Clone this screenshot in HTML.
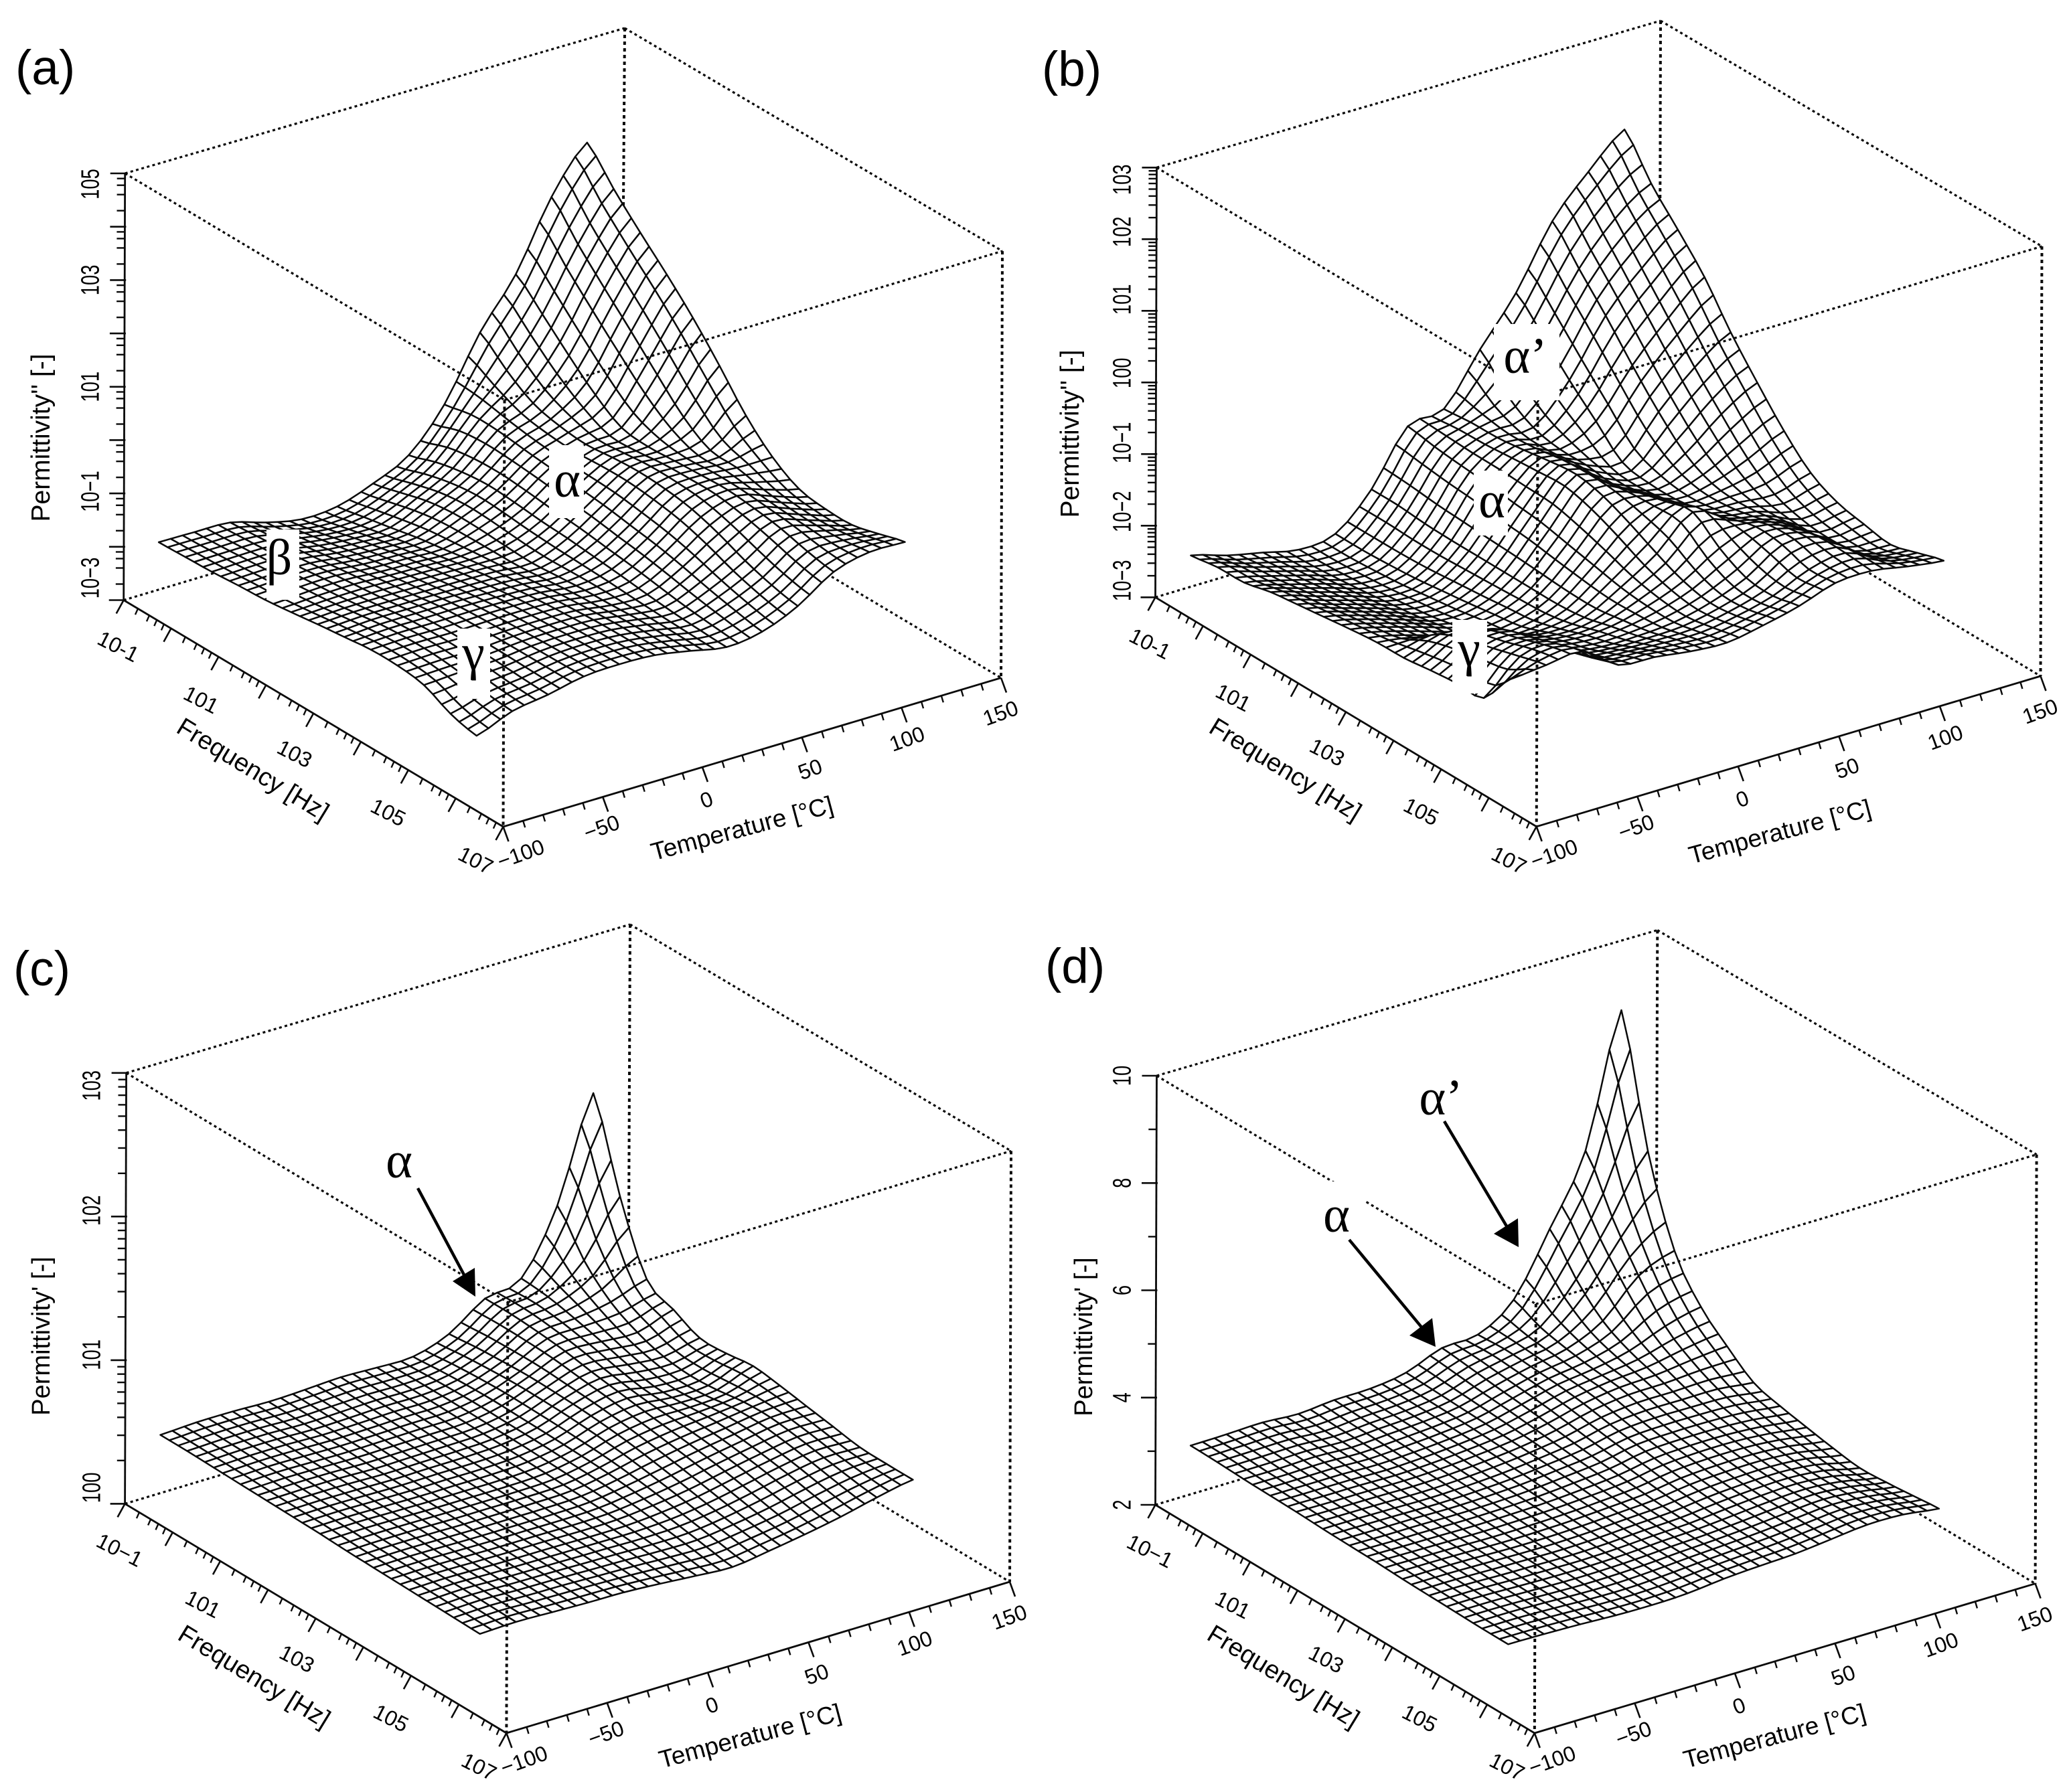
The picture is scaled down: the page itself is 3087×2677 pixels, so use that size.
<!DOCTYPE html>
<html lang="en">
<head>
<meta charset="utf-8">
<title>Permittivity surfaces versus frequency and temperature</title>
<style>
html,body{margin:0;padding:0;background:#fff;}
svg{display:block;font-family:"Liberation Sans",sans-serif;fill:#000;}
.greek{font-family:"Liberation Serif",serif;font-size:76px;text-anchor:middle;}
.panel-letter{font-size:73px;}
.axis-title{font-size:38px;text-anchor:middle;}
</style>
</head>
<body>
<svg id="figure" xmlns="http://www.w3.org/2000/svg" width="3087" height="2677" viewBox="0 0 3087 2677">
<rect x="0" y="0" width="3087" height="2677" fill="#fff"/>
<g id="plot-a"></g>
<g id="plot-b"></g>
<g id="plot-c"></g>
<g id="plot-d"></g>

<text class="panel-letter" x="23" y="126">(a)</text>
<text class="panel-letter" x="1556" y="128">(b)</text>
<text class="panel-letter" x="20" y="1472">(c)</text>
<text class="panel-letter" x="1561" y="1468">(d)</text>

<text class="axis-title" style="font-size:39px" transform="translate(74,654) rotate(-90)">Permittivity'' [-]</text>
<text class="axis-title" style="font-size:39px" transform="translate(1611,648) rotate(-90)">Permittivity'' [-]</text>
<text class="axis-title" transform="translate(74,1996) rotate(-90)">Permittivity' [-]</text>
<text class="axis-title" transform="translate(1631,1997) rotate(-90)">Permittivity' [-]</text>

<text class="axis-title" y="13" transform="translate(378,1149) rotate(31.4)">Frequency [Hz]</text>
<text class="axis-title" y="13" transform="translate(1920,1149) rotate(31.4)">Frequency [Hz]</text>
<text class="axis-title" y="13" transform="translate(380,2504) rotate(31.4)">Frequency [Hz]</text>
<text class="axis-title" y="13" transform="translate(1917,2504) rotate(31.4)">Frequency [Hz]</text>

<text class="axis-title" style="font-size:37px" y="13" transform="translate(1108,1237) rotate(-15)">Temperature [°C]</text>
<text class="axis-title" style="font-size:37px" y="13" transform="translate(2658,1242) rotate(-15)">Temperature [°C]</text>
<text class="axis-title" style="font-size:37px" y="13" transform="translate(1120,2593) rotate(-15)">Temperature [°C]</text>
<text class="axis-title" style="font-size:37px" y="13" transform="translate(2650,2593) rotate(-15)">Temperature [°C]</text>

<g>
<rect x="820" y="665" width="52" height="109" fill="#fff"/>
<text class="greek" x="847" y="742">α</text>
<rect x="398" y="791" width="49" height="105" fill="#fff"/>
<text class="greek" x="417" y="858">β</text>
<rect x="683" y="939" width="49" height="105" fill="#fff"/>
<text class="greek" x="707" y="1000">γ</text>
</g>
<g>
<rect x="2231" y="484" width="98" height="114" fill="#fff"/>
<text class="greek" x="2278" y="557">α’</text>
<rect x="2201" y="703" width="51" height="97" fill="#fff"/>
<text class="greek" x="2228" y="773">α</text>
<rect x="2169" y="926" width="52" height="110" fill="#fff"/>
<text class="greek" x="2194" y="994">γ</text>
</g>
<g>
<text class="greek" x="596" y="1759">α</text>
<line x1="624" y1="1775" x2="696" y2="1910" stroke="#000" stroke-width="4.5"/>
<polygon points="710,1937 676,1914 709,1894" fill="#000"/>
</g>
<g>
<rect x="1974" y="1765" width="64" height="78" fill="#fff"/>
<text class="greek" x="1996" y="1840">α</text>
<text class="greek" x="2152" y="1665">α’</text>
<line x1="2157" y1="1675" x2="2252" y2="1835" stroke="#000" stroke-width="4.5"/>
<polygon points="2268,1863 2231,1843 2267,1820" fill="#000"/>
<line x1="2015" y1="1852" x2="2125" y2="1985" stroke="#000" stroke-width="4.5"/>
<polygon points="2144,2012 2105,1995 2139,1969" fill="#000"/>
</g>
</svg>

<script>
// Lattice coordinates of the surface heights.
const logFreqNodes = [-0.76,-0.20,0.36,0.92,1.47,2.03,2.59,3.15,3.71,4.27,4.83,5.39,5.94];
const tempNodes = [-88.1,-70.2,-52.2,-34.3,-16.4,1.5,19.5,37.4,55.3,73.2,91.2,109.1,127];

// Heights are estimates at each lattice node.
// One row per temperature node, one column per frequency node.
// Panels a, b, c hold log10 of permittivity; panel d holds permittivity.
const surfaceA = [
[-1.92,-1.90,-1.88,-1.84,-1.81,-1.75,-1.68,-1.62,-1.56,-1.56,-1.63,-1.87,-1.99],
[-1.93,-1.90,-1.86,-1.82,-1.77,-1.72,-1.65,-1.58,-1.54,-1.54,-1.59,-1.68,-1.73],
[-1.95,-1.91,-1.87,-1.82,-1.76,-1.71,-1.65,-1.58,-1.55,-1.55,-1.57,-1.60,-1.62],
[-2.15,-2.07,-1.99,-1.90,-1.82,-1.73,-1.66,-1.58,-1.54,-1.52,-1.50,-1.49,-1.48],
[-2.29,-2.18,-2.05,-1.94,-1.84,-1.75,-1.67,-1.60,-1.54,-1.51,-1.48,-1.46,-1.45],
[-2.25,-2.15,-2.05,-1.94,-1.86,-1.77,-1.69,-1.63,-1.57,-1.53,-1.50,-1.49,-1.48],
[-2.02,-1.89,-1.75,-1.68,-1.68,-1.71,-1.73,-1.69,-1.65,-1.63,-1.60,-1.60,-1.60],
[-1.69,-1.52,-1.41,-1.36,-1.39,-1.44,-1.47,-1.52,-1.57,-1.63,-1.68,-1.71,-1.73],
[-0.94,-0.83,-0.83,-0.89,-0.94,-0.99,-1.04,-1.12,-1.20,-1.31,-1.44,-1.55,-1.64],
[0.21,-0.20,-0.52,-0.65,-0.70,-0.65,-0.62,-0.65,-0.73,-0.89,-1.10,-1.26,-1.36],
[1.10,0.65,0.17,-0.27,-0.59,-0.65,-0.62,-0.59,-0.57,-0.62,-0.70,-0.83,-0.92],
[2.35,1.76,1.23,0.72,0.20,-0.30,-0.62,-0.65,-0.76,-0.82,-0.84,-0.82,-0.75],
[3.17,2.60,2.08,1.59,1.07,0.47,-0.17,-0.65,-0.95,-1.03,-1.03,-0.90,-0.76]
];
const surfaceB = [
[-2.42,-2.36,-2.35,-2.26,-2.21,-2.16,-2.11,-2.07,-2.06,-2.01,-1.97,-1.95,-1.47],
[-2.57,-2.51,-2.47,-2.41,-2.36,-2.29,-2.23,-2.15,-1.88,-1.73,-1.63,-1.52,-1.42],
[-2.68,-2.65,-2.61,-2.56,-2.51,-2.45,-2.38,-2.31,-1.98,-1.74,-1.62,-1.49,-1.38],
[-2.79,-2.78,-2.75,-2.71,-2.66,-2.61,-2.53,-2.46,-2.21,-2.07,-1.96,-1.84,-1.72],
[-2.72,-2.72,-2.70,-2.67,-2.62,-2.57,-2.51,-2.45,-2.31,-2.17,-2.06,-1.90,-1.76],
[-2.25,-2.25,-2.28,-2.29,-2.29,-2.29,-2.29,-2.29,-2.25,-2.15,-2.06,-1.93,-1.83],
[-1.52,-1.58,-1.62,-1.65,-1.70,-1.74,-1.82,-1.90,-1.98,-2.02,-2.02,-1.94,-1.86],
[-1.43,-1.39,-1.38,-1.33,-1.27,-1.23,-1.31,-1.47,-1.66,-1.82,-1.90,-1.86,-1.77],
[-0.75,-1.15,-1.39,-1.47,-1.47,-1.51,-1.41,-1.31,-1.23,-1.51,-1.70,-1.73,-1.65],
[-0.11,-0.48,-0.88,-1.23,-1.58,-1.65,-1.65,-1.58,-1.47,-1.36,-1.39,-1.51,-1.48],
[0.74,0.30,-0.13,-0.60,-1.03,-1.39,-1.58,-1.62,-1.58,-1.51,-1.43,-1.43,-1.46],
[1.28,0.85,0.38,-0.09,-0.56,-0.99,-1.39,-1.66,-1.78,-1.82,-1.78,-1.66,-1.55],
[1.72,1.19,0.77,0.33,-0.22,-0.70,-1.15,-1.51,-1.70,-1.78,-1.84,-1.73,-1.62]
];
const surfaceC = [
[.477,.477,.473,.469,.465,.461,.457,.449,.445,.441,.437,.433,.429],
[.489,.485,.481,.477,.469,.465,.461,.453,.449,.445,.445,.441,.437],
[.489,.485,.481,.473,.469,.461,.457,.453,.445,.441,.437,.433,.429],
[.481,.477,.473,.469,.461,.457,.453,.449,.441,.437,.433,.429,.421],
[.489,.485,.477,.473,.465,.461,.453,.449,.441,.437,.429,.421,.417],
[.501,.493,.485,.477,.469,.461,.453,.449,.441,.433,.425,.413,.401],
[.493,.489,.485,.481,.477,.473,.465,.457,.449,.437,.421,.401,.381],
[.493,.509,.520,.524,.520,.516,.509,.501,.485,.461,.429,.397,.366],
[.576,.596,.608,.616,.612,.604,.588,.564,.532,.497,.461,.429,.401],
[.747,.747,.735,.715,.683,.656,.628,.604,.580,.548,.509,.469,.441],
[.811,.795,.755,.707,.656,.616,.616,.628,.620,.596,.564,.524,.489],
[1.243,.973,.795,.695,.636,.616,.628,.656,.660,.636,.604,.572,.548],
[1.951,1.343,.878,.779,.691,.695,.719,.695,.663,.632,.600,.596,.596]
];
const surfaceD = [
[3.10,3.09,3.07,3.06,3.05,3.03,3.02,3.01,2.99,2.98,2.97,2.96,2.96],
[3.11,3.10,3.07,3.06,3.04,3.03,3.01,3.00,2.99,2.98,2.97,2.96,2.95],
[3.13,3.11,3.09,3.06,3.04,3.02,3.01,2.99,2.98,2.96,2.95,2.94,2.93],
[3.09,3.07,3.06,3.04,3.03,3.01,3.00,2.98,2.96,2.95,2.93,2.91,2.90],
[3.15,3.12,3.10,3.07,3.05,3.03,3.01,2.99,2.96,2.94,2.93,2.90,2.89],
[3.16,3.15,3.14,3.12,3.10,3.07,3.04,3.01,2.98,2.96,2.95,2.93,2.91],
[3.26,3.24,3.22,3.20,3.17,3.14,3.10,3.05,3.02,3.00,2.99,2.98,2.98],
[3.52,3.47,3.41,3.36,3.30,3.23,3.17,3.11,3.06,3.03,3.02,3.02,3.02],
[3.57,3.60,3.57,3.53,3.47,3.38,3.30,3.22,3.15,3.10,3.07,3.06,3.05],
[4.02,3.81,3.70,3.62,3.57,3.44,3.33,3.26,3.19,3.15,3.13,3.12,3.12],
[5.14,4.50,4.02,3.76,3.60,3.44,3.33,3.26,3.20,3.17,3.17,3.18,3.19],
[6.40,5.46,4.66,4.02,3.68,3.44,3.30,3.21,3.15,3.11,3.11,3.14,3.18],
[8.82,6.49,4.93,4.18,3.74,3.36,3.22,3.12,3.03,2.96,2.99,3.04,3.09]
];

// Axis ticks and labels.
const tempTickValues = [-100,-50,0,50,100,150];
const tempTickLabels = ['−100','−50','0','50','100','150'];
const freqTickValues = [-1,1,3,5,7];
const freqTickLabelsHyphen = ['10-1','101','103','105','107'];
const freqTickLabelsMinus = ['10−1','101','103','105','107'];
const zTickValuesA = [-3,-1,1,3,5];
const zTickLabelsA = ['10−3','10−1','101','103','105'];
const zTickValuesB = [-3,-2,-1,0,1,2,3];
const zTickLabelsB = ['10−3','10−2','10−1','100','101','102','103'];
const zTickValuesC = [0,1,2,3];
const zTickLabelsC = ['100','101','102','103'];
const zTickValuesD = [2,4,6,8,10];
const zTickLabelsD = ['2','4','6','8','10'];

// Layout of each plot: box corners and label placement.
const plots = [
 {id:'a',L:[184.7,896.5],F:[751.5,1235],R:[1495,1012.6],H:637.5,topBack:[933,42],grid:surfaceA,zMin:-3,zMax:5,zTicks:zTickValuesA,zLabels:zTickLabelsA,zShift:[-33,-3,0,0,16],decadeStep:1,minor:[.301,.602,.778,.903],freqLabels:freqTickLabelsHyphen},
 {id:'b',L:[1725.5,892.3],F:[2294.7,1234.8],R:[3047.5,1010],H:642,topBack:[2480,31],grid:surfaceB,zMin:-3,zMax:3,zTicks:zTickValuesB,zLabels:zTickLabelsB,zShift:[-25,-21,-17,-14,-17,-11,18],decadeStep:1,minor:[.301,.477,.602,.699,.778,.845,.903,.954],freqLabels:freqTickLabelsHyphen},
 {id:'c',L:[186.6,2246.4],F:[756.4,2589],R:[1508,2363],H:643.6,topBack:[941,1381],grid:surfaceC,zMin:0,zMax:3,zTicks:zTickValuesC,zLabels:zTickLabelsC,zShift:[-24,-8,-9,19],decadeStep:1,minor:[.301,.477,.602,.699,.778,.845,.903,.954],freqLabels:freqTickLabelsMinus},
 {id:'d',L:[1725.5,2248],F:[2291.8,2589],R:[3039.6,2365.7],H:641,topBack:[2475.3,1389.5],grid:surfaceD,zMin:2,zMax:10,zTicks:zTickValuesD,zLabels:zTickLabelsD,zShift:[0,0,0,0,0],decadeStep:2,minor:[.5],freqLabels:freqTickLabelsMinus}
];

const SVG_NS = 'http://www.w3.org/2000/svg';
const MESH_PER_NODE = 3;
const freqMinorFractions = [.30,.54,.70,.85];
const tempLabelOffsets = [[30,40],[2,45],[10,48],[16,47],[12,46],[3,52]];
const freqLabelOffsets = [[-13,68],[-31,63],[-33,59],[-35,62],[-46,49]];

function drawLine(parent, name, x1, y1, x2, y2, width, dash) {
  const node = document.createElementNS(SVG_NS, 'line');
  
  
  node.setAttribute('x1', x1.toFixed(1));
  node.setAttribute('y1', y1.toFixed(1));
  node.setAttribute('x2', x2.toFixed(1));
  node.setAttribute('y2', y2.toFixed(1));
  node.setAttribute('stroke', '#0a0a0a');
  node.setAttribute('stroke-width', width);
  if (dash) node.setAttribute('stroke-dasharray', dash);
  parent.appendChild(node);
}

function drawText(parent, name, content, transform, size) {
  const node = document.createElementNS(SVG_NS, 'text');
  
  
  node.setAttribute('transform', transform);
  node.setAttribute('text-anchor', 'middle');
  node.setAttribute('font-size', size);
  node.textContent = content;
  parent.appendChild(node);
}

// Smooth curve through neighbouring lattice heights, used only to draw the mesh.
function spline(p0, p1, p2, p3, t) {
  return 0.5 * (2 * p1 + (p2 - p0) * t + (2 * p0 - 5 * p1 + 4 * p2 - p3) * t * t + (3 * p1 - p0 - 3 * p2 + p3) * t * t * t);
}
function clampIndex(i) { return Math.max(0, Math.min(12, i)); }
function alongFreq(row, u) {
  const i = Math.min(11, Math.floor(u));
  return spline(row[clampIndex(i - 1)], row[i], row[i + 1], row[clampIndex(i + 2)], u - i);
}
function heightAt(grid, u, v) {
  const j = Math.min(11, Math.floor(v));
  return spline(alongFreq(grid[clampIndex(j - 1)], u), alongFreq(grid[j], u), alongFreq(grid[j + 1], u), alongFreq(grid[clampIndex(j + 2)], u), v - j);
}
function nodeValue(nodes, u) {
  const i = Math.min(11, Math.floor(u));
  return nodes[i] + (nodes[i + 1] - nodes[i]) * (u - i);
}

function drawPlot(p) {
  const g = document.getElementById('plot-' + p.id);
  const freqScale = v => (v + 1) / 8;
  const tempScale = v => (v + 100) / 250;
  const zScale = v => (v - p.zMin) / (p.zMax - p.zMin);
  const project = (logF, temp, value) => {
    const a = freqScale(logF), b = tempScale(temp);
    return [
      p.L[0] + a * (p.F[0] - p.L[0]) + b * (p.R[0] - p.F[0]),
      p.L[1] + a * (p.F[1] - p.L[1]) + b * (p.R[1] - p.F[1]) - zScale(value) * p.H
    ];
  };
  const B = [p.L[0] + p.R[0] - p.F[0], p.L[1] + p.R[1] - p.F[1]];
  const up = pt => [pt[0] + 2, pt[1] - p.H];
  const Lt = up(p.L), Ft = up(p.F), Rt = up(p.R), Bt = p.topBack;
  const dots = '4 4.5';
  const heavy = '5 5';

  // Box edges behind the surface.
  drawLine(g, 'box-edge-top-left-back', Lt[0], Lt[1], Bt[0], Bt[1], 3.2, dots);
  drawLine(g, 'box-edge-top-right-back', Bt[0], Bt[1], Rt[0], Rt[1], 3.2, dots);
  drawLine(g, 'box-edge-floor-left', p.L[0], p.L[1], B[0], B[1], 3.2, dots);
  drawLine(g, 'box-edge-floor-right', B[0], B[1], p.R[0], p.R[1], 3.2, dots);
  drawLine(g, 'box-edge-back-vertical', Bt[0], Bt[1], B[0], B[1], 4, heavy);
  drawLine(g, 'box-edge-right-vertical', Rt[0], Rt[1], p.R[0], p.R[1], 4, heavy);

  // Surface, painted from the back corner towards the viewer.
  const N = 12 * MESH_PER_NODE;
  const pts = [];
  for (let a = 0; a <= N; a++) {
    pts.push([]);
    for (let b = 0; b <= N; b++) {
      const u = a / MESH_PER_NODE, v = b / MESH_PER_NODE;
      pts[a].push(project(nodeValue(logFreqNodes, u), nodeValue(tempNodes, v), heightAt(p.grid, u, v)));
    }
  }
  const surface = document.createElementNS(SVG_NS, 'g');
  
  
  surface.setAttribute('fill', '#fff');
  surface.setAttribute('stroke', '#0a0a0a');
  surface.setAttribute('stroke-width', '2.5');
  surface.setAttribute('stroke-linejoin', 'round');
  g.appendChild(surface);
  for (let a = 0; a < N; a++) {
    for (let b = N - 1; b >= 0; b--) {
      const q = [pts[a][b], pts[a + 1][b], pts[a + 1][b + 1], pts[a][b + 1]];
      const cell = document.createElementNS(SVG_NS, 'path');
      
      
      cell.setAttribute('d', 'M' + q.map(s => s[0].toFixed(1) + ' ' + s[1].toFixed(1)).join('L') + 'Z');
      surface.appendChild(cell);
    }
  }

  // Box edges in front of the surface.
  drawLine(g, 'box-edge-top-left-front', Lt[0], Lt[1], Ft[0], Ft[1], 3.2, dots);
  drawLine(g, 'box-edge-top-right-front', Ft[0], Ft[1], Rt[0], Rt[1], 3.2, dots);
  drawLine(g, 'box-edge-front-vertical', Ft[0], Ft[1], p.F[0], p.F[1], 4, heavy);

  // Solid axes.
  drawLine(g, 'z-axis', p.L[0], p.L[1], Lt[0], Lt[1], 2.8);
  drawLine(g, 'frequency-axis', p.L[0], p.L[1], p.F[0], p.F[1], 2.8);
  drawLine(g, 'temperature-axis', p.F[0], p.F[1], p.R[0], p.R[1], 2.8);

  // Z ticks.
  const zAt = v => { const s = zScale(v); return [p.L[0] + 2 * s, p.L[1] - s * p.H]; };
  for (let d = p.zMin; d <= p.zMax; d += p.decadeStep) {
    const m = zAt(d);
    drawLine(g, 'z-major-tick', m[0] - 22, m[1], m[0] + 2, m[1], 2.6);
    if (d < p.zMax) {
      p.minor.forEach(fr => {
        const t = zAt(d + fr * p.decadeStep);
        drawLine(g, 'z-minor-tick', t[0] - 12, t[1], t[0] + 1, t[1], 2.4);
      });
    }
  }
  p.zTicks.forEach((v, k) => {
    const t = zAt(v);
    drawText(g, 'z-tick-label', p.zLabels[k], 'translate(' + (p.L[0] - 37) + ',' + (t[1] + p.zShift[k]) + ') rotate(-90) scale(0.72,1)', 38);
  });

  // Frequency ticks.
  const freqBase = v => {
    const a = freqScale(v);
    return [p.L[0] + a * (p.F[0] - p.L[0]), p.L[1] + a * (p.F[1] - p.L[1])];
  };
  for (let d = -1; d <= 7; d++) {
    const m = freqBase(d);
    drawLine(g, 'frequency-major-tick', m[0], m[1], m[0] - 11, m[1] + 20, 2.6);
    if (d < 7) {
      freqMinorFractions.forEach(fr => {
        const t = freqBase(d + fr);
        drawLine(g, 'frequency-minor-tick', t[0], t[1], t[0] - 4, t[1] + 9, 2.4);
      });
    }
  }
  freqTickValues.forEach((v, k) => {
    const t = freqBase(v), o = freqLabelOffsets[k];
    drawText(g, 'frequency-tick-label', p.freqLabels[k], 'translate(' + (t[0] + o[0]) + ',' + (t[1] + o[1] + 11) + ') rotate(27)', 32);
  });

  // Temperature ticks.
  const tempBase = v => {
    const b = tempScale(v);
    return [p.F[0] + b * (p.R[0] - p.F[0]), p.F[1] + b * (p.R[1] - p.F[1])];
  };
  for (let v = -100; v <= 150; v += 10) {
    const t = tempBase(v);
    const major = v % 50 === 0;
    drawLine(g, major ? 'temperature-major-tick' : 'temperature-minor-tick', t[0], t[1], t[0] + (major ? 8 : 3), t[1] + (major ? 22 : 10), major ? 2.6 : 2.4);
  }
  tempTickValues.forEach((v, k) => {
    const t = tempBase(v), o = tempLabelOffsets[k];
    drawText(g, 'temperature-tick-label', tempTickLabels[k], 'translate(' + (t[0] + o[0]) + ',' + (t[1] + o[1] + 11) + ') rotate(-20)', 32);
  });
}
plots.forEach(drawPlot);
</script>
</body>
</html>
